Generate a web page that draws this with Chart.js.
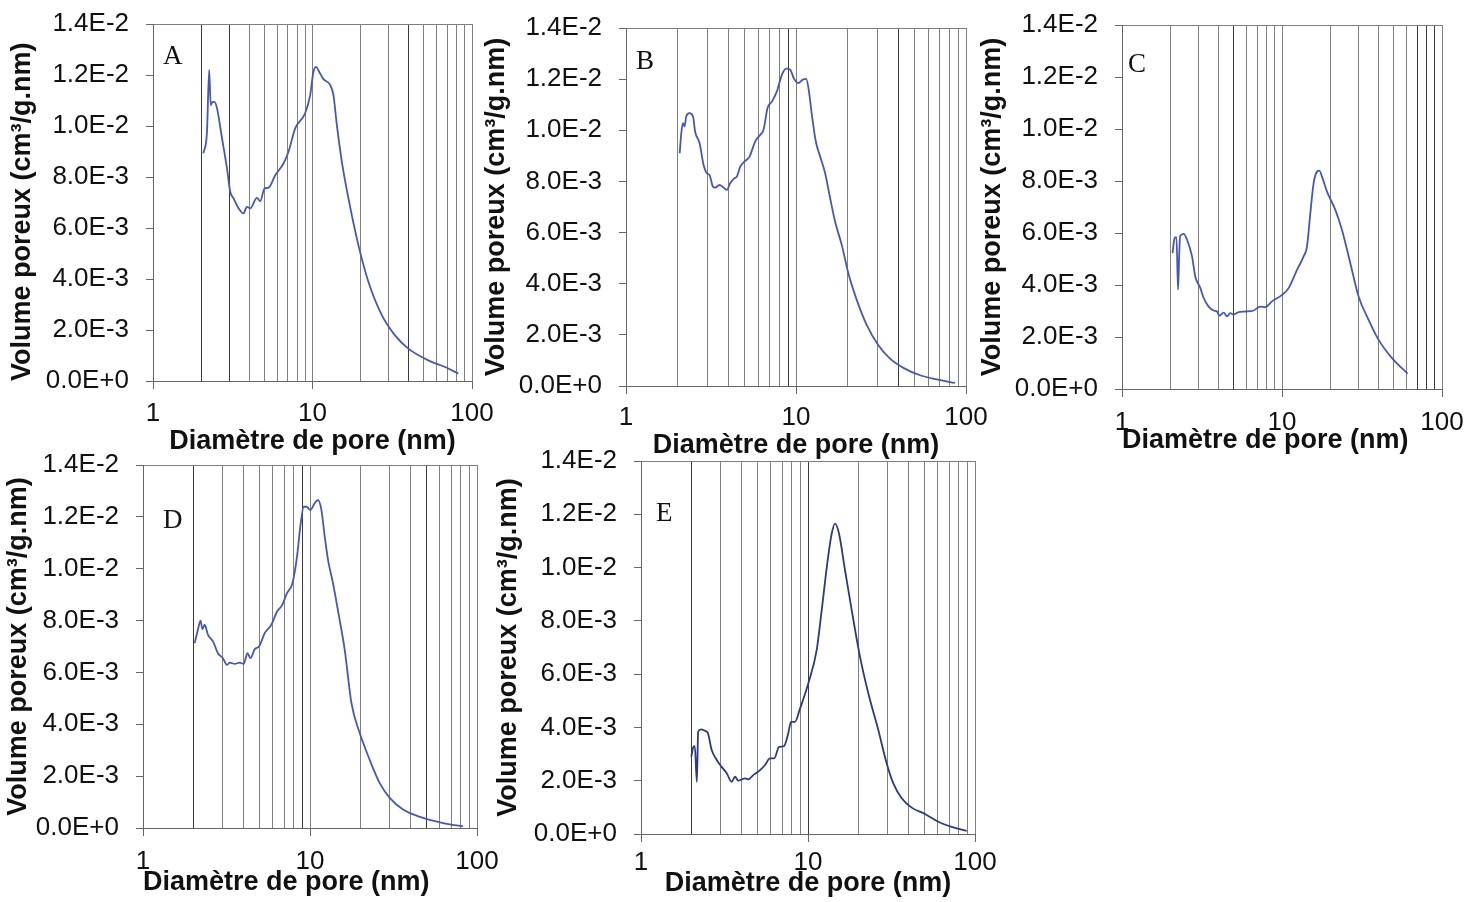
<!DOCTYPE html>
<html>
<head>
<meta charset="utf-8">
<title>Volume poreux - diamètre de pore</title>
<script src="https://cdn.jsdelivr.net/npm/chart.js@4.4.1/dist/chart.umd.min.js"></script>
<style>
  html, body { margin: 0; padding: 0; background: #fff; }
  body { position: relative; width: 1480px; height: 902px; overflow: hidden; }
  canvas { position: absolute; }
</style>
</head>
<body>
<script>
// axes communs
const yTickValues = [0, 0.002, 0.004, 0.006, 0.008, 0.010, 0.012, 0.014];
const yTickLabels = ['0.0E+0', '2.0E-3', '4.0E-3', '6.0E-3', '8.0E-3', '1.0E-2', '1.2E-2', '1.4E-2'];
const xGridValues = [1, 2, 3, 4, 5, 6, 7, 8, 9, 10, 20, 30, 40, 50, 60, 70, 80, 90, 100];
const xTickValues = [1, 10, 100];
const xTickLabels = ['1', '10', '100'];
const xTitle = 'Diamètre de pore (nm)';
const yTitle = 'Volume poreux (cm³/g.nm)';

// échantillon A
const diamA = [2.07, 2.18, 2.25, 2.30, 2.36, 2.43, 2.52, 2.71, 2.91, 3.05, 3.20, 3.44, 3.69, 3.88, 4.07, 4.48, 4.70, 5.00, 5.30, 5.84,
  6.58, 7.07, 7.79, 8.99, 9.67, 10.14, 10.54, 11.01, 11.71, 12.90, 13.53, 14.21, 15.27, 16.80, 19.40, 22.41, 27.2, 32.9, 39.9, 53.2, 67.8, 82.1];
const volA = [8.93e-3, 9.77e-3, 12.2e-3, 10.82e-3, 10.95e-3, 10.95e-3, 10.69e-3, 9.51e-3, 8.34e-3, 7.42e-3, 7.16e-3, 6.77e-3, 6.57e-3, 6.83e-3, 6.77e-3, 7.18e-3, 7.05e-3, 7.55e-3, 7.58e-3, 8.07e-3,
  8.53e-3, 8.99e-3, 9.91e-3, 10.50e-3, 11.21e-3, 12.13e-3, 12.32e-3, 12.13e-3, 11.84e-3, 11.61e-3, 11.21e-3, 10.04e-3, 8.60e-3, 7.16e-3, 5.33e-3, 3.89e-3, 2.58e-3, 1.79e-3, 1.27e-3, 0.81e-3, 0.55e-3, 0.29e-3];

// échantillon B
const diamB = [2.07, 2.11, 2.16, 2.21, 2.26, 2.36, 2.48, 2.55, 2.71, 2.86, 2.99, 3.10, 3.25, 3.35, 3.55, 3.75, 3.92, 4.10, 4.33, 4.49,
  4.70, 5.02, 5.33, 5.75, 6.16, 6.44, 6.80, 7.21, 7.72, 8.26, 8.75, 9.24, 9.75, 10.34, 10.91, 11.47, 11.84, 12.40, 13.08, 13.87,
  14.84, 15.88, 16.99, 18.60, 20.34, 22.79, 26.09, 30.52, 35.76, 42.8, 53.7, 67.3, 86.1];
const volB = [9.10e-3, 9.82e-3, 10.28e-3, 10.15e-3, 10.54e-3, 10.67e-3, 10.54e-3, 9.95e-3, 9.49e-3, 8.64e-3, 8.32e-3, 8.25e-3, 7.79e-3, 7.76e-3, 7.86e-3, 7.76e-3, 7.67e-3, 7.93e-3, 8.12e-3, 8.19e-3,
  8.58e-3, 8.80e-3, 8.97e-3, 9.56e-3, 9.82e-3, 10.02e-3, 10.87e-3, 11.12e-3, 11.52e-3, 12.17e-3, 12.41e-3, 12.37e-3, 12.01e-3, 11.85e-3, 11.97e-3, 12.01e-3, 11.65e-3, 10.60e-3, 9.56e-3, 8.97e-3,
  8.32e-3, 7.34e-3, 6.42e-3, 5.51e-3, 4.40e-3, 3.36e-3, 2.38e-3, 1.59e-3, 1.07e-3, 0.71e-3, 0.42e-3, 0.26e-3, 0.12e-3];

// échantillon C
const diamC = [2.07, 2.13, 2.19, 2.24, 2.28, 2.31, 2.43, 2.55, 2.74, 2.87, 3.09, 3.24, 3.48, 3.74, 3.93, 4.06, 4.32, 4.53, 4.75, 4.98,
  5.36, 5.90, 6.65, 7.32, 7.86, 8.66, 10.0, 11.0, 12.41, 13.65, 14.33, 15.03, 15.76, 16.55, 17.11, 17.78, 19.11, 21.54, 23.71, 26.73,
  30.11, 34.77, 40.16, 48.7, 60.95];
const volC = [5.23e-3, 5.80e-3, 5.84e-3, 3.82e-3, 5.23e-3, 5.89e-3, 5.97e-3, 5.74e-3, 5.10e-3, 4.33e-3, 3.88e-3, 3.50e-3, 3.17e-3, 3.02e-3, 2.98e-3, 2.82e-3, 2.94e-3, 2.79e-3, 2.92e-3, 2.86e-3,
  2.96e-3, 2.98e-3, 3.02e-3, 3.17e-3, 3.15e-3, 3.37e-3, 3.62e-3, 3.88e-3, 4.58e-3, 5.10e-3, 5.48e-3, 6.76e-3, 7.92e-3, 8.36e-3, 8.40e-3, 8.17e-3, 7.59e-3, 6.89e-3, 6.12e-3, 4.84e-3,
  3.56e-3, 2.66e-3, 1.89e-3, 1.19e-3, 0.59e-3];

// échantillon D
const diamD = [2.04, 2.13, 2.21, 2.27, 2.34, 2.45, 2.63, 2.81, 3.01, 3.18, 3.31, 3.54, 3.79, 4.01, 4.22, 4.40, 4.67, 4.95, 5.36, 5.87,
  6.35, 6.83, 7.28, 7.85, 8.36, 8.80, 9.17, 9.52, 10.06, 10.67, 11.17, 11.70, 12.25, 12.82, 13.73, 14.92, 16.14, 17.70, 19.85, 22.78,
  26.15, 30.01, 36.06, 47.5, 62.6, 82.5];
const volD = [7.13e-3, 7.64e-3, 8.00e-3, 7.67e-3, 7.84e-3, 7.45e-3, 7.19e-3, 6.74e-3, 6.55e-3, 6.29e-3, 6.38e-3, 6.33e-3, 6.38e-3, 6.33e-3, 6.74e-3, 6.55e-3, 6.90e-3, 7.00e-3, 7.52e-3, 7.84e-3,
  8.35e-3, 8.61e-3, 9.06e-3, 9.44e-3, 10.47e-3, 11.75e-3, 12.39e-3, 12.39e-3, 12.27e-3, 12.53e-3, 12.65e-3, 12.27e-3, 11.24e-3, 10.34e-3, 9.44e-3, 8.16e-3, 6.87e-3, 4.82e-3, 3.66e-3, 2.63e-3,
  1.73e-3, 1.16e-3, 0.71e-3, 0.39e-3, 0.19e-3, 0.06e-3];

// échantillon E
const diamE = [2.00, 2.06, 2.10, 2.16, 2.20, 2.29, 2.42, 2.51, 2.65, 2.84, 3.04, 3.26, 3.49, 3.66, 3.82, 4.20, 4.39, 4.70, 5.04, 5.53,
  5.92, 6.28, 6.71, 7.18, 7.62, 7.91, 8.36, 8.96, 10.04, 11.27, 12.08, 13.12, 13.87, 14.51, 15.33, 16.66, 18.27, 20.49, 22.97, 26.36,
  29.60, 32.43, 36.40, 41.78, 50.2, 60.3, 72.5, 89.2];
const volE = [2.90e-3, 3.27e-3, 3.30e-3, 1.96e-3, 3.84e-3, 3.93e-3, 3.87e-3, 3.80e-3, 3.15e-3, 2.78e-3, 2.52e-3, 2.28e-3, 1.96e-3, 2.15e-3, 2.00e-3, 2.09e-3, 2.05e-3, 2.21e-3, 2.34e-3, 2.59e-3,
  2.84e-3, 2.84e-3, 3.27e-3, 3.30e-3, 3.78e-3, 4.21e-3, 4.21e-3, 4.71e-3, 5.65e-3, 6.90e-3, 8.40e-3, 10.28e-3, 11.28e-3, 11.65e-3, 11.28e-3, 9.90e-3, 8.40e-3, 6.65e-3, 5.28e-3, 3.90e-3,
  2.65e-3, 1.90e-3, 1.34e-3, 0.99e-3, 0.75e-3, 0.46e-3, 0.27e-3, 0.12e-3];

// placement des 5 graphes (zone de tracé: gauche, haut, droite, bas)
const panels = [
  { name: 'A', diam: diamA, vol: volA, color: '#4858b2', area: [153, 24, 472, 381], yTitleX: 22, xTitleY: 442, labelPad: 9,
    xTitleAlign: 'center', yTitleAlign: 'start', letterAt: [10, 33], darkLines: [2, 3, 40] },
  { name: 'B', diam: diamB, vol: volB, color: '#4858b2', area: [626, 28, 966, 386], yTitleX: 496, xTitleY: 446, labelPad: 8,
    xTitleAlign: 'center', yTitleAlign: 'center', letterAt: [10, 34], darkLines: [9, 40] },
  { name: 'C', diam: diamC, vol: volC, color: '#4858b2', area: [1122, 25, 1442, 389], yTitleX: 992, xTitleY: 441, labelPad: 10,
    xTitleAlign: 'start', yTitleAlign: 'center', letterAt: [6, 40], darkLines: [5, 70, 80, 90] },
  { name: 'D', diam: diamD, vol: volD, color: '#4858b2', area: [143, 465, 477, 828], yTitleX: 18, xTitleY: 883, labelPad: 10,
    xTitleAlign: 'start', yTitleAlign: 'center', letterAt: [20, 56], darkLines: [2, 9, 50] },
  { name: 'E', diam: diamE, vol: volE, color: '#2c3a82', area: [641, 461, 975, 834], yTitleX: 508, xTitleY: 884, labelPad: 5,
    xTitleAlign: 'center', yTitleAlign: 'center', letterAt: [15, 53], darkLines: [2, 10] }
];

const sans = '"Liberation Sans", Arial, sans-serif';
const gridGray = '#7f7f7f';
const gridDark = '#3a3a3a';
const axisGray = '#666';
const PAD = 36;

Chart.defaults.font.family = sans;
Chart.defaults.color = '#111';

// lettre du graphe, en haut à gauche de la zone de tracé
const panelLetter = {
  id: 'panelLetter',
  afterDraw(chart, args, opts) {
    const { ctx, chartArea } = chart;
    ctx.save();
    ctx.font = '27px "Liberation Serif", "Times New Roman", serif';
    ctx.fillStyle = '#111';
    ctx.textBaseline = 'middle';
    ctx.fillText(opts.text, chartArea.left + opts.dx, chartArea.top + opts.dy);
    ctx.restore();
  }
};

panels.forEach(function (p) {
  const [L, T, R, B] = p.area;
  const left = Math.round(p.yTitleX - 16.2);
  const top = T - PAD;
  const width = R + PAD - left;
  const height = Math.round(p.xTitleY + 16.2) - top;
  const yAxisWidth = L - left;
  const xAxisHeight = top + height - B;

  const canvas = document.createElement('canvas');
  canvas.width = width;
  canvas.height = height;
  canvas.style.left = left + 'px';
  canvas.style.top = top + 'px';
  document.body.appendChild(canvas);

  new Chart(canvas.getContext('2d'), {
    type: 'line',
    data: {
      datasets: [{
        label: p.name,
        data: p.diam.map((d, i) => ({ x: d, y: p.vol[i] })),
        borderColor: p.color,
        borderWidth: 1.8,
        pointRadius: 0,
        fill: false,
        cubicInterpolationMode: 'monotone'
      }]
    },
    plugins: [panelLetter],
    options: {
      responsive: false,
      animation: false,
      devicePixelRatio: 1,
      layout: { padding: { left: 0, top: PAD, right: PAD, bottom: 0 } },
      plugins: {
        legend: { display: false },
        tooltip: { enabled: false },
        panelLetter: { text: p.name, dx: p.letterAt[0], dy: p.letterAt[1] }
      },
      scales: {
        x: {
          type: 'logarithmic',
          min: 1,
          max: 100,
          afterBuildTicks: s => { s.ticks = xGridValues.map(v => ({ value: v })); },
          afterFit: s => { s.height = xAxisHeight; },
          ticks: {
            autoSkip: false,
            maxRotation: 0,
            padding: p.labelPad,
            font: { size: 26 },
            color: '#111',
            callback: v => { const k = xTickValues.indexOf(v); return k >= 0 ? xTickLabels[k] : ''; }
          },
          grid: {
            color: c => p.darkLines.includes(c.tick.value) ? gridDark : gridGray,
            lineWidth: 1,
            tickLength: 8,
            tickColor: c => xTickValues.includes(c.tick.value) ? axisGray : 'rgba(0,0,0,0)'
          },
          border: { color: axisGray, width: 1 },
          title: { display: true, text: xTitle, align: p.xTitleAlign, font: { size: 27, weight: 'bold' }, color: '#111', padding: 0 }
        },
        y: {
          min: 0,
          max: 0.014,
          afterBuildTicks: s => { s.ticks = yTickValues.map(v => ({ value: v })); },
          afterFit: s => { s.width = yAxisWidth; },
          ticks: {
            padding: 17,
            font: { size: 26 },
            color: '#111',
            callback: (v, i) => yTickLabels[i]
          },
          grid: {
            color: c => c.tick.value === 0.014 ? gridGray : 'rgba(0,0,0,0)',
            tickLength: 7,
            tickColor: axisGray
          },
          border: { color: axisGray, width: 1 },
          title: { display: true, text: yTitle, align: p.yTitleAlign, font: { size: 27, weight: 'bold' }, color: '#111', padding: 0 }
        }
      }
    }
  });
});
</script>
</body>
</html>
